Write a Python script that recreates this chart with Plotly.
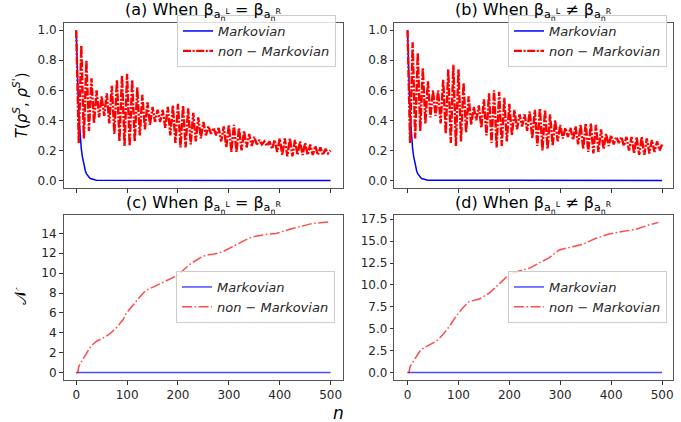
import plotly.graph_objects as go

# ---------------- data ----------------
# Markovian trace distance (top panels)
n_markov_top = list(range(0, 41, 2)) + [500]
T_markov = [1.0, 0.73, 0.54, 0.40, 0.29, 0.21, 0.16, 0.12, 0.085, 0.063, 0.046,
            0.034, 0.025, 0.018, 0.013, 0.010, 0.007, 0.005, 0.004, 0.003, 0.002, 0.0]

# non-Markovian trace distance: local maxima (n = 0,10,...,500) and minima (n = 5,15,...,495)
n_peak = list(range(0, 501, 10))
n_trough = list(range(5, 500, 10))

T_a_peaks = [1.00, 0.90, 0.80, 0.68, 0.60, 0.56, 0.58, 0.63, 0.67, 0.70,
             0.71, 0.67, 0.62, 0.57, 0.52, 0.49, 0.47, 0.47, 0.49, 0.50,
             0.51, 0.50, 0.48, 0.45, 0.42, 0.39, 0.36, 0.35, 0.35, 0.36,
             0.37, 0.37, 0.35, 0.33, 0.31, 0.29, 0.27, 0.26, 0.26, 0.27,
             0.28, 0.28, 0.28, 0.27, 0.26, 0.25, 0.24, 0.23, 0.22, 0.21,
             0.20]
T_a_troughs = [0.25, 0.28, 0.33, 0.38, 0.42, 0.43, 0.38, 0.31, 0.26, 0.23,
               0.23, 0.26, 0.30, 0.34, 0.37, 0.39, 0.39, 0.35, 0.30, 0.25,
               0.22, 0.22, 0.24, 0.26, 0.28, 0.30, 0.31, 0.30, 0.26, 0.22,
               0.19, 0.19, 0.20, 0.22, 0.23, 0.24, 0.24, 0.23, 0.21, 0.19,
               0.17, 0.16, 0.16, 0.17, 0.17, 0.17, 0.17, 0.17, 0.17, 0.18]

T_b_peaks = [1.00, 0.92, 0.85, 0.75, 0.66, 0.60, 0.60, 0.67, 0.74, 0.77,
             0.74, 0.65, 0.56, 0.49, 0.50, 0.54, 0.58, 0.60, 0.59, 0.55,
             0.51, 0.47, 0.44, 0.44, 0.46, 0.47, 0.48, 0.47, 0.44, 0.40,
             0.37, 0.35, 0.35, 0.36, 0.37, 0.38, 0.38, 0.37, 0.34, 0.31,
             0.30, 0.29, 0.29, 0.29, 0.29, 0.29, 0.29, 0.28, 0.27, 0.26,
             0.24]
T_b_troughs = [0.25, 0.28, 0.33, 0.38, 0.42, 0.43, 0.38, 0.31, 0.25, 0.23,
               0.26, 0.32, 0.37, 0.40, 0.35, 0.30, 0.25, 0.22, 0.23, 0.26,
               0.30, 0.34, 0.36, 0.33, 0.28, 0.23, 0.20, 0.21, 0.23, 0.26,
               0.28, 0.29, 0.27, 0.24, 0.21, 0.19, 0.18, 0.19, 0.21, 0.23,
               0.24, 0.25, 0.23, 0.20, 0.18, 0.17, 0.17, 0.18, 0.19, 0.20]

# non-Markovianity measure N (bottom panels)
n_markov_bottom = [0, 500]
N_markov = [0.0, 0.0]

n_c = [0, 3, 5, 10, 15, 20, 26, 33, 40, 52, 65, 78, 85, 92, 98, 105, 111, 118, 125, 132,
       138, 151, 164, 177, 190, 200, 208, 216, 226, 236, 249, 260, 269, 288, 301, 310, 320,
       333, 346, 360, 373, 393, 412, 425, 438, 451, 464, 480, 497]
N_c = [0, 0, 0.6, 1.1, 1.5, 1.9, 2.45, 2.85, 3.15, 3.45, 3.85, 4.45, 4.9, 5.3, 5.95, 6.4,
       6.8, 7.2, 7.6, 8.0, 8.3, 8.6, 8.9, 9.2, 9.5, 9.8, 10.2, 10.6, 11.0, 11.3, 11.7, 11.85,
       11.9, 12.15, 12.5, 12.75, 13.05, 13.35, 13.65, 13.8, 13.9, 14.0, 14.33, 14.5, 14.66,
       14.85, 15.0, 15.08, 15.15]

n_d = [0, 3, 5, 13, 26, 43, 56, 69, 82, 95, 108, 121, 141, 160, 170, 180, 199, 219, 239,
       258, 278, 298, 324, 344, 370, 396, 422, 448, 474, 493]
N_d = [0, 0, 0.68, 1.45, 2.6, 3.15, 3.55, 4.3, 5.25, 6.4, 7.35, 8.1, 8.4, 9.05, 9.6, 10.2,
       11.15, 11.6, 11.9, 12.5, 13.1, 14.0, 14.4, 14.65, 15.33, 15.82, 16.1, 16.35, 16.85,
       17.15]

x_ticks = [0, 100, 200, 300, 400, 500]
titles = ["(a) When β<sub>a<sub>n</sub><sup>L</sup></sub> = β<sub>a<sub>n</sub><sup>R</sup></sub>",
          "(b) When β<sub>a<sub>n</sub><sup>L</sup></sub> ≠ β<sub>a<sub>n</sub><sup>R</sup></sub>",
          "(c) When β<sub>a<sub>n</sub><sup>L</sup></sub> = β<sub>a<sub>n</sub><sup>R</sup></sub>",
          "(d) When β<sub>a<sub>n</sub><sup>L</sup></sub> ≠ β<sub>a<sub>n</sub><sup>R</sup></sub>"]
lab_markov = "<i>Markovian</i>"
lab_non = "<i>non</i> − <i>Markovian</i>"
ylab_top = "<i>T</i>(<i>ρ</i><sup><i>S</i></sup>, <i>ρ</i><sup><i>S</i>'</sup>)"
ylab_bottom = "𝒩"
xlab = "<i>n</i>"


def zigzag(peaks, troughs):
    xs, ys = [], []
    for i, p in enumerate(peaks):
        xs.append(n_peak[i]); ys.append(p)
        if i < len(troughs):
            xs.append(n_trough[i]); ys.append(troughs[i])
    return xs, ys


W, H = 681, 422
FONT = "DejaVu Sans"
BLUE = "#0000ff"
RED = "#ff0000"
DASH_TOP = "8px,1.6px,2px,1.6px"
DASH_BOT = "10px,2.5px,1.6px,2.5px"

fig = go.Figure()

panels = [
    ("x", "y", "legend", (n_markov_top, T_markov), zigzag(T_a_peaks, T_a_troughs), 1.0, 2.4, DASH_TOP),
    ("x2", "y2", "legend2", (n_markov_top, T_markov), zigzag(T_b_peaks, T_b_troughs), 1.0, 2.4, DASH_TOP),
    ("x3", "y3", "legend3", (n_markov_bottom, N_markov), (n_c, N_c), 0.7, 1.5, DASH_BOT),
    ("x4", "y4", "legend4", (n_markov_bottom, N_markov), (n_d, N_d), 0.7, 1.5, DASH_BOT),
]
for xa, ya, lg, mk, nm, op, rw, dsh in panels:
    fig.add_trace(go.Scatter(x=mk[0], y=mk[1], mode="lines", name=lab_markov,
                             line=dict(color=BLUE, width=1.5), opacity=op,
                             xaxis=xa, yaxis=ya, legend=lg))
    fig.add_trace(go.Scatter(x=nm[0], y=nm[1], mode="lines", name=lab_non,
                             line=dict(color=RED, width=rw, dash=dsh), opacity=op,
                             xaxis=xa, yaxis=ya, legend=lg))

# domains (pixel-derived)
xl = [63.5 / W, 343.3 / W]
xr = [394.3 / W, 673.3 / W]
yt = [1 - 188 / H, 1 - 22.7 / H]
yb = [1 - 380 / H, 1 - 215 / H]

ax_common = dict(showline=True, linecolor="#555555", linewidth=1, mirror=True,
                 ticks="outside", ticklen=3.5, tickwidth=1, tickcolor="#333333",
                 showgrid=False, zeroline=False, automargin=False,
                 tickfont=dict(family=FONT, size=12, color="#262626"))

fig.update_layout(
    width=W, height=H, autosize=False,
    margin=dict(l=0, r=0, t=0, b=0),
    paper_bgcolor="white", plot_bgcolor="white",
    xaxis=dict(domain=xl, anchor="y", range=[-25, 525], tickvals=x_ticks,
               showticklabels=False, **ax_common),
    xaxis2=dict(domain=xr, anchor="y2", range=[-26, 522], tickvals=x_ticks,
                showticklabels=False, **ax_common),
    xaxis3=dict(domain=xl, anchor="y3", range=[-25, 525], tickvals=x_ticks, **ax_common),
    xaxis4=dict(domain=xr, anchor="y4", range=[-26, 522], tickvals=x_ticks, **ax_common),
    yaxis=dict(domain=yt, anchor="x", range=[-0.05, 1.05], dtick=0.2, tick0=0,
               tickformat=".1f",
               title=dict(text=ylab_top, standoff=6,
                          font=dict(family=FONT, size=15, color="black")),
               **ax_common),
    yaxis2=dict(domain=yt, anchor="x2", range=[-0.05, 1.05], dtick=0.2, tick0=0,
                tickformat=".1f", **ax_common),
    yaxis3=dict(domain=yb, anchor="x3", range=[-0.755, 15.855], dtick=2, tick0=0,
                title=dict(text=ylab_bottom, standoff=10,
                           font=dict(family=FONT, size=16, color="black")),
                **ax_common),
    yaxis4=dict(domain=yb, anchor="x4", range=[-0.857, 17.99], dtick=2.5, tick0=0,
                tickformat=".1f", **ax_common),
    showlegend=True,
)

leg_common = dict(bgcolor="rgba(255,255,255,0.8)", bordercolor="#cccccc", borderwidth=1,
                  font=dict(family=FONT, size=13, color="#262626"), itemwidth=30,
                  xanchor="right", yanchor="middle", tracegroupgap=0)
fig.update_layout(
    legend=dict(x=336 / W, y=1 - 41 / H, **leg_common),
    legend2=dict(x=667 / W, y=1 - 41 / H, **leg_common),
    legend3=dict(x=335 / W, y=1 - 297 / H, **leg_common),
    legend4=dict(x=667 / W, y=1 - 297 / H, **leg_common),
)

# panel titles
centers = [(xl[0] + xl[1]) / 2, (xr[0] + xr[1]) / 2]
title_pos = [(centers[0], 1 - 12 / H), (centers[1], 1 - 12 / H),
             (centers[0], 1 - 204 / H), (centers[1], 1 - 204 / H)]
for t, (tx, ty) in zip(titles, title_pos):
    fig.add_annotation(text=t, x=tx, y=ty, xref="paper", yref="paper",
                       xanchor="center", yanchor="middle", showarrow=False,
                       font=dict(family=FONT, size=16, color="black"))

# shared x label
fig.add_annotation(text=xlab, x=338 / W, y=1 - 413 / H, xref="paper", yref="paper",
                   xanchor="center", yanchor="middle",
                   showarrow=False, font=dict(family=FONT, size=17, color="black"))

fig.write_html("out.html")
